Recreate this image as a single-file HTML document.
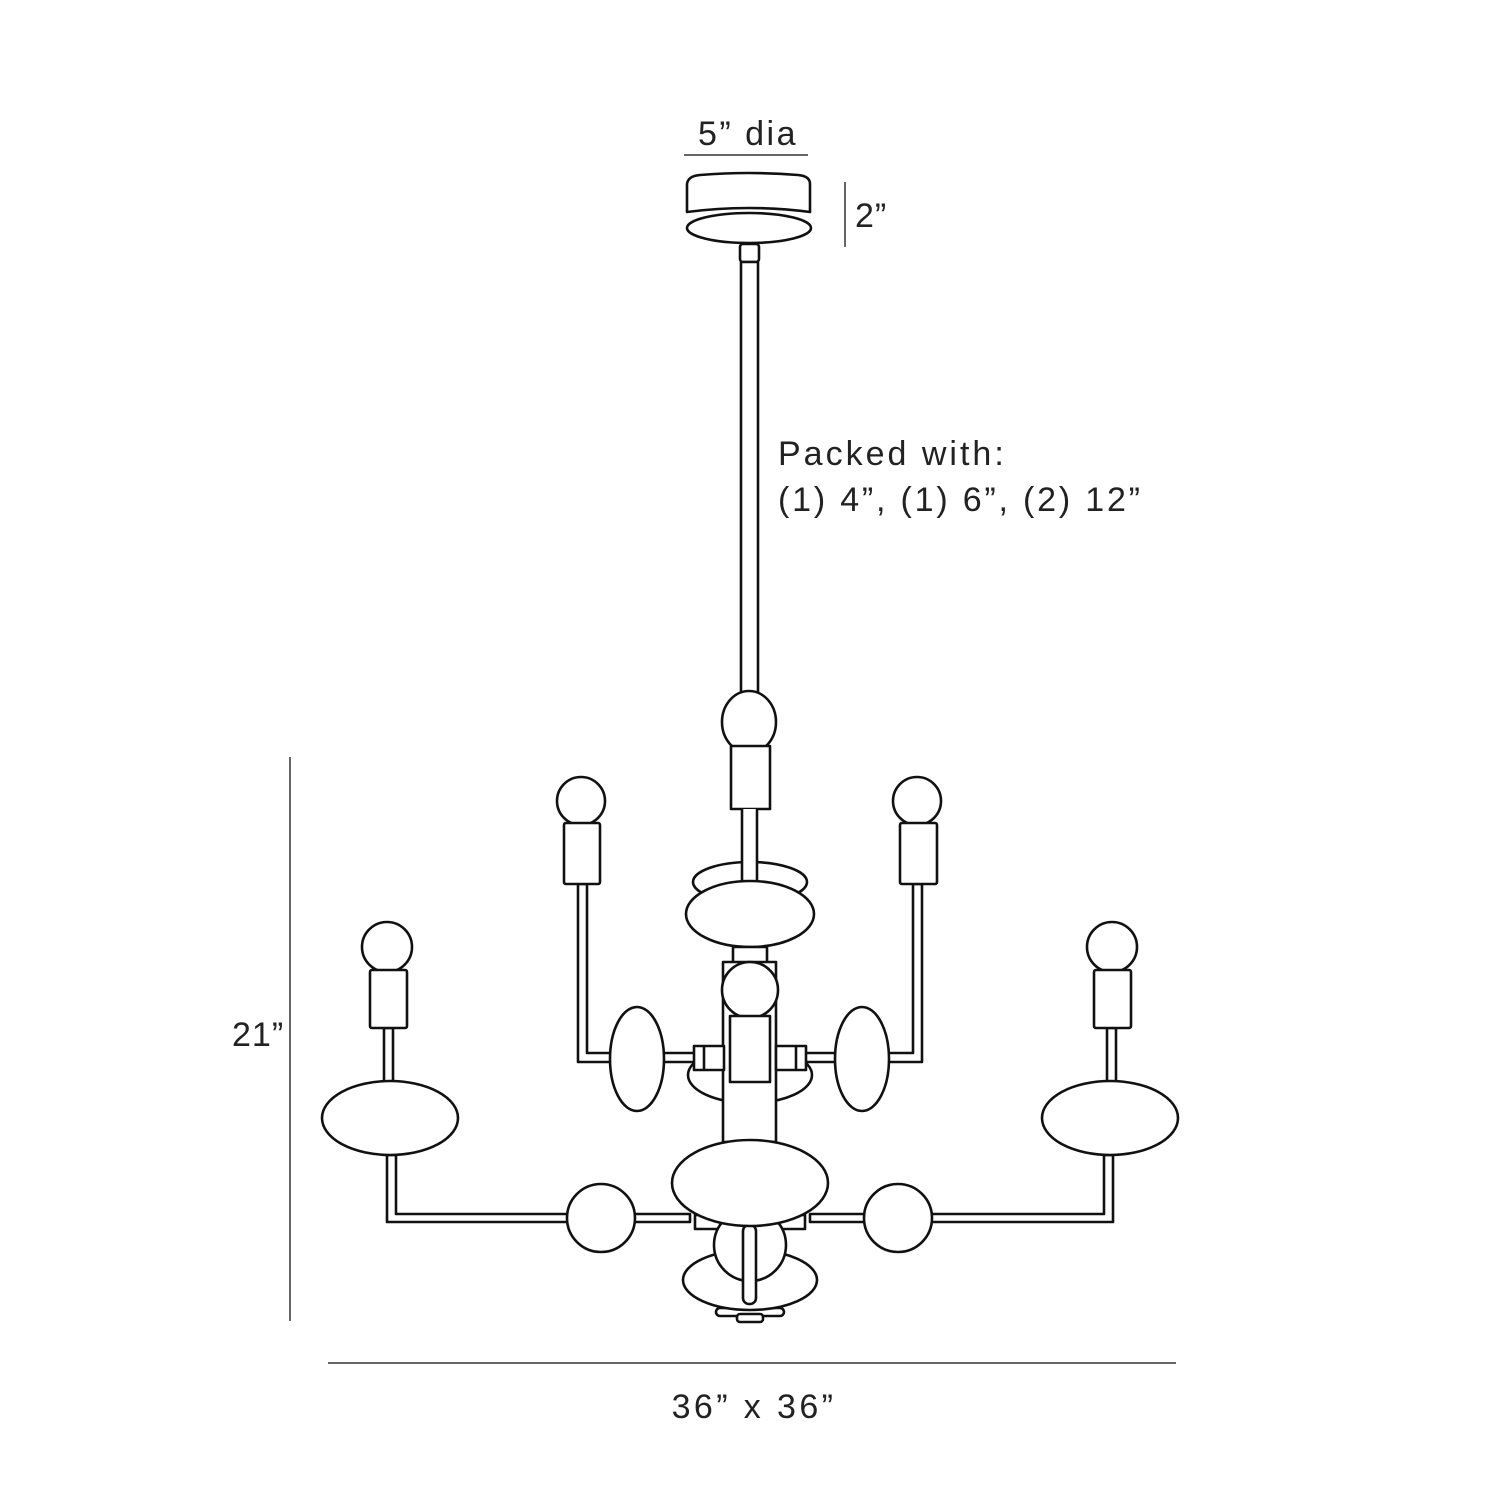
<!DOCTYPE html>
<html><head><style>
html,body{margin:0;padding:0;background:#fff;}
svg{display:block;}
text{font-family:"Liberation Sans",sans-serif;fill:#222;font-weight:normal;}
</style></head><body>
<svg width="1500" height="1500" viewBox="0 0 1500 1500" xmlns="http://www.w3.org/2000/svg">
<rect width="1500" height="1500" fill="#fff"/>
<g fill="#fff" stroke="#111" stroke-width="2.6" stroke-linejoin="round">
<!-- canopy -->
<path d="M687 184 Q688 176 700 175 Q749 171 798 175 Q810 176 810 184 L810 212 Q749 204 687 212 Z"/>
<ellipse cx="749" cy="228" rx="62" ry="15"/>
<rect x="740" y="244" width="19" height="18" rx="3"/>
<rect x="741" y="262" width="17" height="440"/>
<!-- upper ball & socket -->
<ellipse cx="749" cy="722" rx="27" ry="31"/>
<rect x="731" y="746" width="39" height="63"/>
<!-- disc -->
<ellipse cx="750" cy="882" rx="57" ry="20"/>
<rect x="742" y="809" width="15" height="72" stroke="none"/>
<line x1="742" y1="809" x2="742" y2="881"/><line x1="757" y1="809" x2="757" y2="881"/>
<ellipse cx="750" cy="914" rx="64" ry="33"/>
<!-- hub back -->
<ellipse cx="750" cy="1075" rx="62" ry="28"/>
<rect x="733" y="947" width="34" height="16"/>
<rect x="723" y="962" width="53" height="180"/>
<circle cx="750" cy="990" r="28"/>
<rect x="730" y="1016" width="40" height="66"/>
<!-- side connectors -->
<rect x="660" y="1053" width="36" height="9"/>
<rect x="805" y="1053" width="36" height="9"/>
<rect x="694" y="1046" width="30" height="24"/>
<line x1="704" y1="1046" x2="704" y2="1070"/>
<rect x="776" y="1046" width="30" height="24"/>
<line x1="796" y1="1046" x2="796" y2="1070"/>
<!-- upper arms -->
<path d="M578 884 L578 1062 L612 1062 L612 1053 L587 1053 L587 884 Z"/>
<path d="M922 884 L922 1062 L888 1062 L888 1053 L913 1053 L913 884 Z"/>
<circle cx="581" cy="801" r="24"/>
<rect x="564" y="823" width="36" height="61" rx="2"/>
<circle cx="917" cy="801" r="24"/>
<rect x="900" y="823" width="37" height="61" rx="2"/>
<ellipse cx="637" cy="1059" rx="27" ry="52"/>
<ellipse cx="862" cy="1059" rx="27" ry="52"/>
<!-- lower arms -->
<rect x="384" y="1028" width="9" height="56"/>
<rect x="1107" y="1028" width="9" height="56"/>
<path d="M387 1155 L387 1222 L690 1222 L690 1214 L396 1214 L396 1155 Z"/>
<path d="M1113 1155 L1113 1222 L810 1222 L810 1214 L1104 1214 L1104 1155 Z"/>
<circle cx="387" cy="947" r="25"/>
<rect x="370" y="970" width="37" height="58" rx="2"/>
<circle cx="1112" cy="947" r="25"/>
<rect x="1094" y="970" width="37" height="58" rx="2"/>
<ellipse cx="390" cy="1118" rx="68" ry="37"/>
<ellipse cx="1110" cy="1118" rx="68" ry="37"/>
<circle cx="601" cy="1218" r="34"/>
<circle cx="898" cy="1218" r="34"/>
<!-- bottom -->
<rect x="716" y="1308" width="68" height="8" rx="4"/>
<rect x="737" y="1314" width="26" height="8" rx="3"/>
<ellipse cx="750" cy="1280" rx="67" ry="30"/>
<rect x="695" y="1215" width="110" height="14"/>
<circle cx="750" cy="1245" r="36"/>
<rect x="743" y="1225" width="13" height="79" rx="6"/>
<ellipse cx="750" cy="1183" rx="78" ry="43"/>
</g>
<!-- dimensions -->
<g stroke="#333" stroke-width="1.5">
<line x1="684" y1="155" x2="808" y2="155"/>
<line x1="845" y1="182" x2="845" y2="247"/>
<line x1="290" y1="757" x2="290" y2="1321"/>
<line x1="328" y1="1363" x2="1176" y2="1363"/>
</g>
<text x="748" y="145" font-size="34" text-anchor="middle" letter-spacing="2.5">5” dia</text>
<text x="855" y="227" font-size="34" letter-spacing="1">2”</text>
<text x="778" y="465" font-size="34" letter-spacing="3">Packed with:</text>
<text x="778" y="511" font-size="34" letter-spacing="2.8">(1) 4”, (1) 6”, (2) 12”</text>
<text x="232" y="1046" font-size="34" letter-spacing="1">21”</text>
<text x="754" y="1418" font-size="34" text-anchor="middle" letter-spacing="3.4">36” x 36”</text>
</svg>
</body></html>
